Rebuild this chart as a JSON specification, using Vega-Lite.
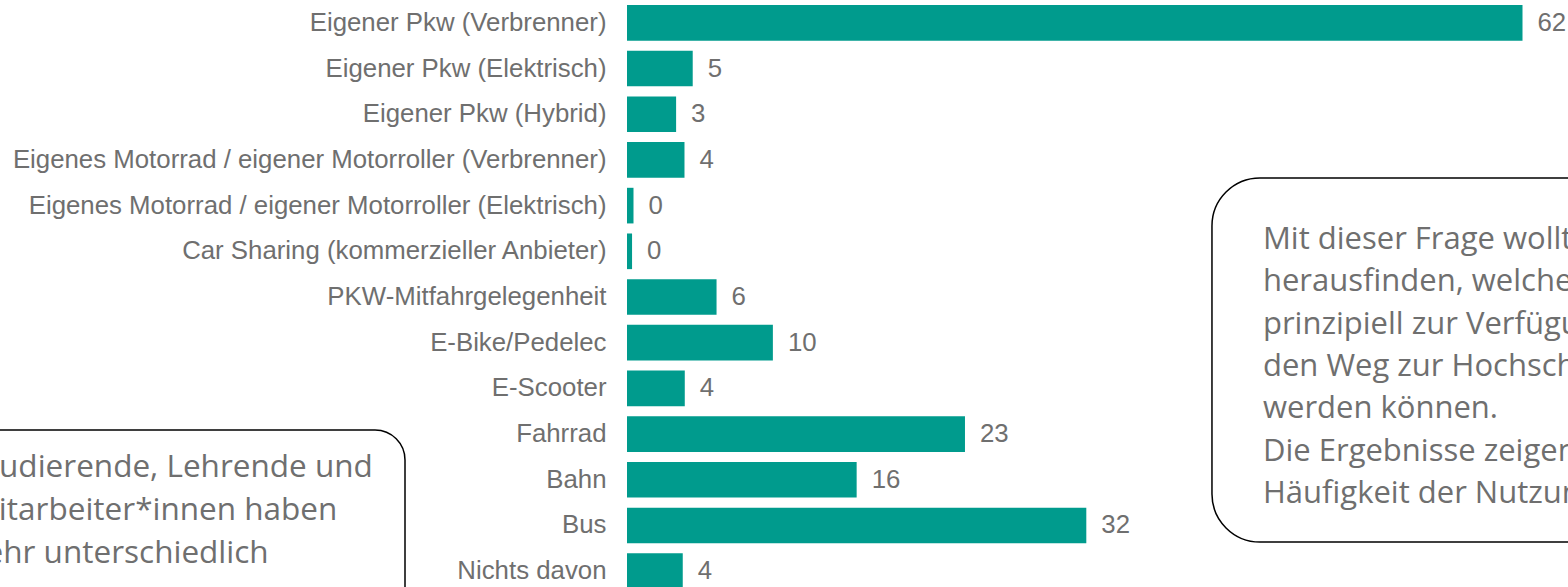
{
  "$schema": "https://vega.github.io/schema/vega-lite/v6.json",
  "autosize": {"type": "none"},
  "padding": {"left": 627, "top": 0, "right": 0, "bottom": 0},
  "width": 941,
  "height": 587,
  "background": "white",
  "config": {"view": {"stroke": null}},
  "layer": [
    {
      "data": {
        "values": [
          {"mode": "Eigener Pkw (Verbrenner)", "value": 62.0},
          {"mode": "Eigener Pkw (Elektrisch)", "value": 4.55},
          {"mode": "Eigener Pkw (Hybrid)", "value": 3.4},
          {"mode": "Eigenes Motorrad / eigener Motorroller (Verbrenner)", "value": 3.98},
          {"mode": "Eigenes Motorrad / eigener Motorroller (Elektrisch)", "value": 0.45},
          {"mode": "Car Sharing (kommerzieller Anbieter)", "value": 0.35},
          {"mode": "PKW-Mitfahrgelegenheit", "value": 6.2},
          {"mode": "E-Bike/Pedelec", "value": 10.1},
          {"mode": "E-Scooter", "value": 4.0},
          {"mode": "Fahrrad", "value": 23.4},
          {"mode": "Bahn", "value": 15.9},
          {"mode": "Bus", "value": 31.8},
          {"mode": "Nichts davon", "value": 3.86}
        ]
      },
      "encoding": {
        "y": {
          "field": "mode",
          "type": "nominal",
          "sort": null,
          "scale": {"range": [0, 594], "paddingInner": 0.22, "paddingOuter": 0.11},
          "axis": {
            "title": null,
            "domain": false,
            "ticks": false,
            "labelPadding": 21,
            "labelLimit": 800,
            "labelFont": "Liberation Sans",
            "labelFontSize": 25.8,
            "labelColor": "#6f6f6f"
          }
        },
        "x": {
          "field": "value",
          "type": "quantitative",
          "scale": {"domain": [0, 65.15], "nice": false, "zero": false},
          "axis": null
        }
      },
      "layer": [
        {"mark": {"type": "bar", "color": "#009B8D"}},
        {
          "mark": {"type": "text", "align": "left", "baseline": "middle", "dx": 15, "font": "Liberation Sans", "fontSize": 25.8, "color": "#6f6f6f"},
          "encoding": {"text": {"field": "value", "type": "quantitative", "format": ".0f"}}
        }
      ]
    },
    {
      "data": {"values": [{"box": "rechts"}]},
      "mark": {"type": "rect", "cornerRadius": 48, "fill": "white", "stroke": "black", "strokeWidth": 1.5},
      "encoding": {
        "x": {"datum": 40.5, "type": "quantitative", "scale": {"domain": [0, 65.15], "nice": false, "zero": false}, "axis": null},
        "x2": {"datum": 75},
        "y": {"datum": 3.896, "type": "quantitative", "scale": {"domain": [0, 13], "range": [0, 594], "nice": false, "zero": false}, "axis": null},
        "y2": {"datum": 11.862}
      }
    },
    {
      "data": {"values": [{"box": "rechts"}]},
      "mark": {"type": "text", "align": "left", "baseline": "middle", "font": "Open Sans", "fontSize": 31, "lineHeight": 42.3, "color": "#6f6f6f"},
      "encoding": {
        "x": {"datum": 44.03, "type": "quantitative", "scale": {"domain": [0, 65.15], "nice": false, "zero": false}, "axis": null},
        "y": {"datum": 5.253, "type": "quantitative", "scale": {"domain": [0, 13], "range": [0, 594], "nice": false, "zero": false}, "axis": null},
        "text": {"value": ["Mit dieser Frage wollten wir", "herausfinden, welche Verkehrsmittel", "prinzipiell zur Verfügung stehen und", "den Weg zur Hochschule genutzt", "werden können.", "Die Ergebnisse zeigen die", "Häufigkeit der Nutzung."]}
      }
    },
    {
      "data": {"values": [{"box": "links"}]},
      "mark": {"type": "rect", "cornerRadius": 30, "fill": "white", "stroke": "black", "strokeWidth": 1.5},
      "encoding": {
        "x": {"datum": -50, "type": "quantitative", "scale": {"domain": [0, 65.15], "nice": false, "zero": false}, "axis": null},
        "x2": {"datum": -15.37},
        "y": {"datum": 9.411, "type": "quantitative", "scale": {"domain": [0, 13], "range": [0, 594], "nice": false, "zero": false}, "axis": null},
        "y2": {"datum": 14}
      }
    },
    {
      "data": {"values": [{"box": "links"}]},
      "mark": {"type": "text", "align": "left", "baseline": "middle", "font": "Open Sans", "fontSize": 31.5, "lineHeight": 43, "color": "#6f6f6f"},
      "encoding": {
        "x": {"datum": -45.45, "type": "quantitative", "scale": {"domain": [0, 65.15], "nice": false, "zero": false}, "axis": null},
        "y": {"datum": 10.25, "type": "quantitative", "scale": {"domain": [0, 13], "range": [0, 594], "nice": false, "zero": false}, "axis": null},
        "text": {"value": ["Studierende, Lehrende und", "Mitarbeiter*innen haben", "sehr unterschiedlich"]}
      }
    }
  ],
  "resolve": {"scale": {"y": "independent"}}
}
